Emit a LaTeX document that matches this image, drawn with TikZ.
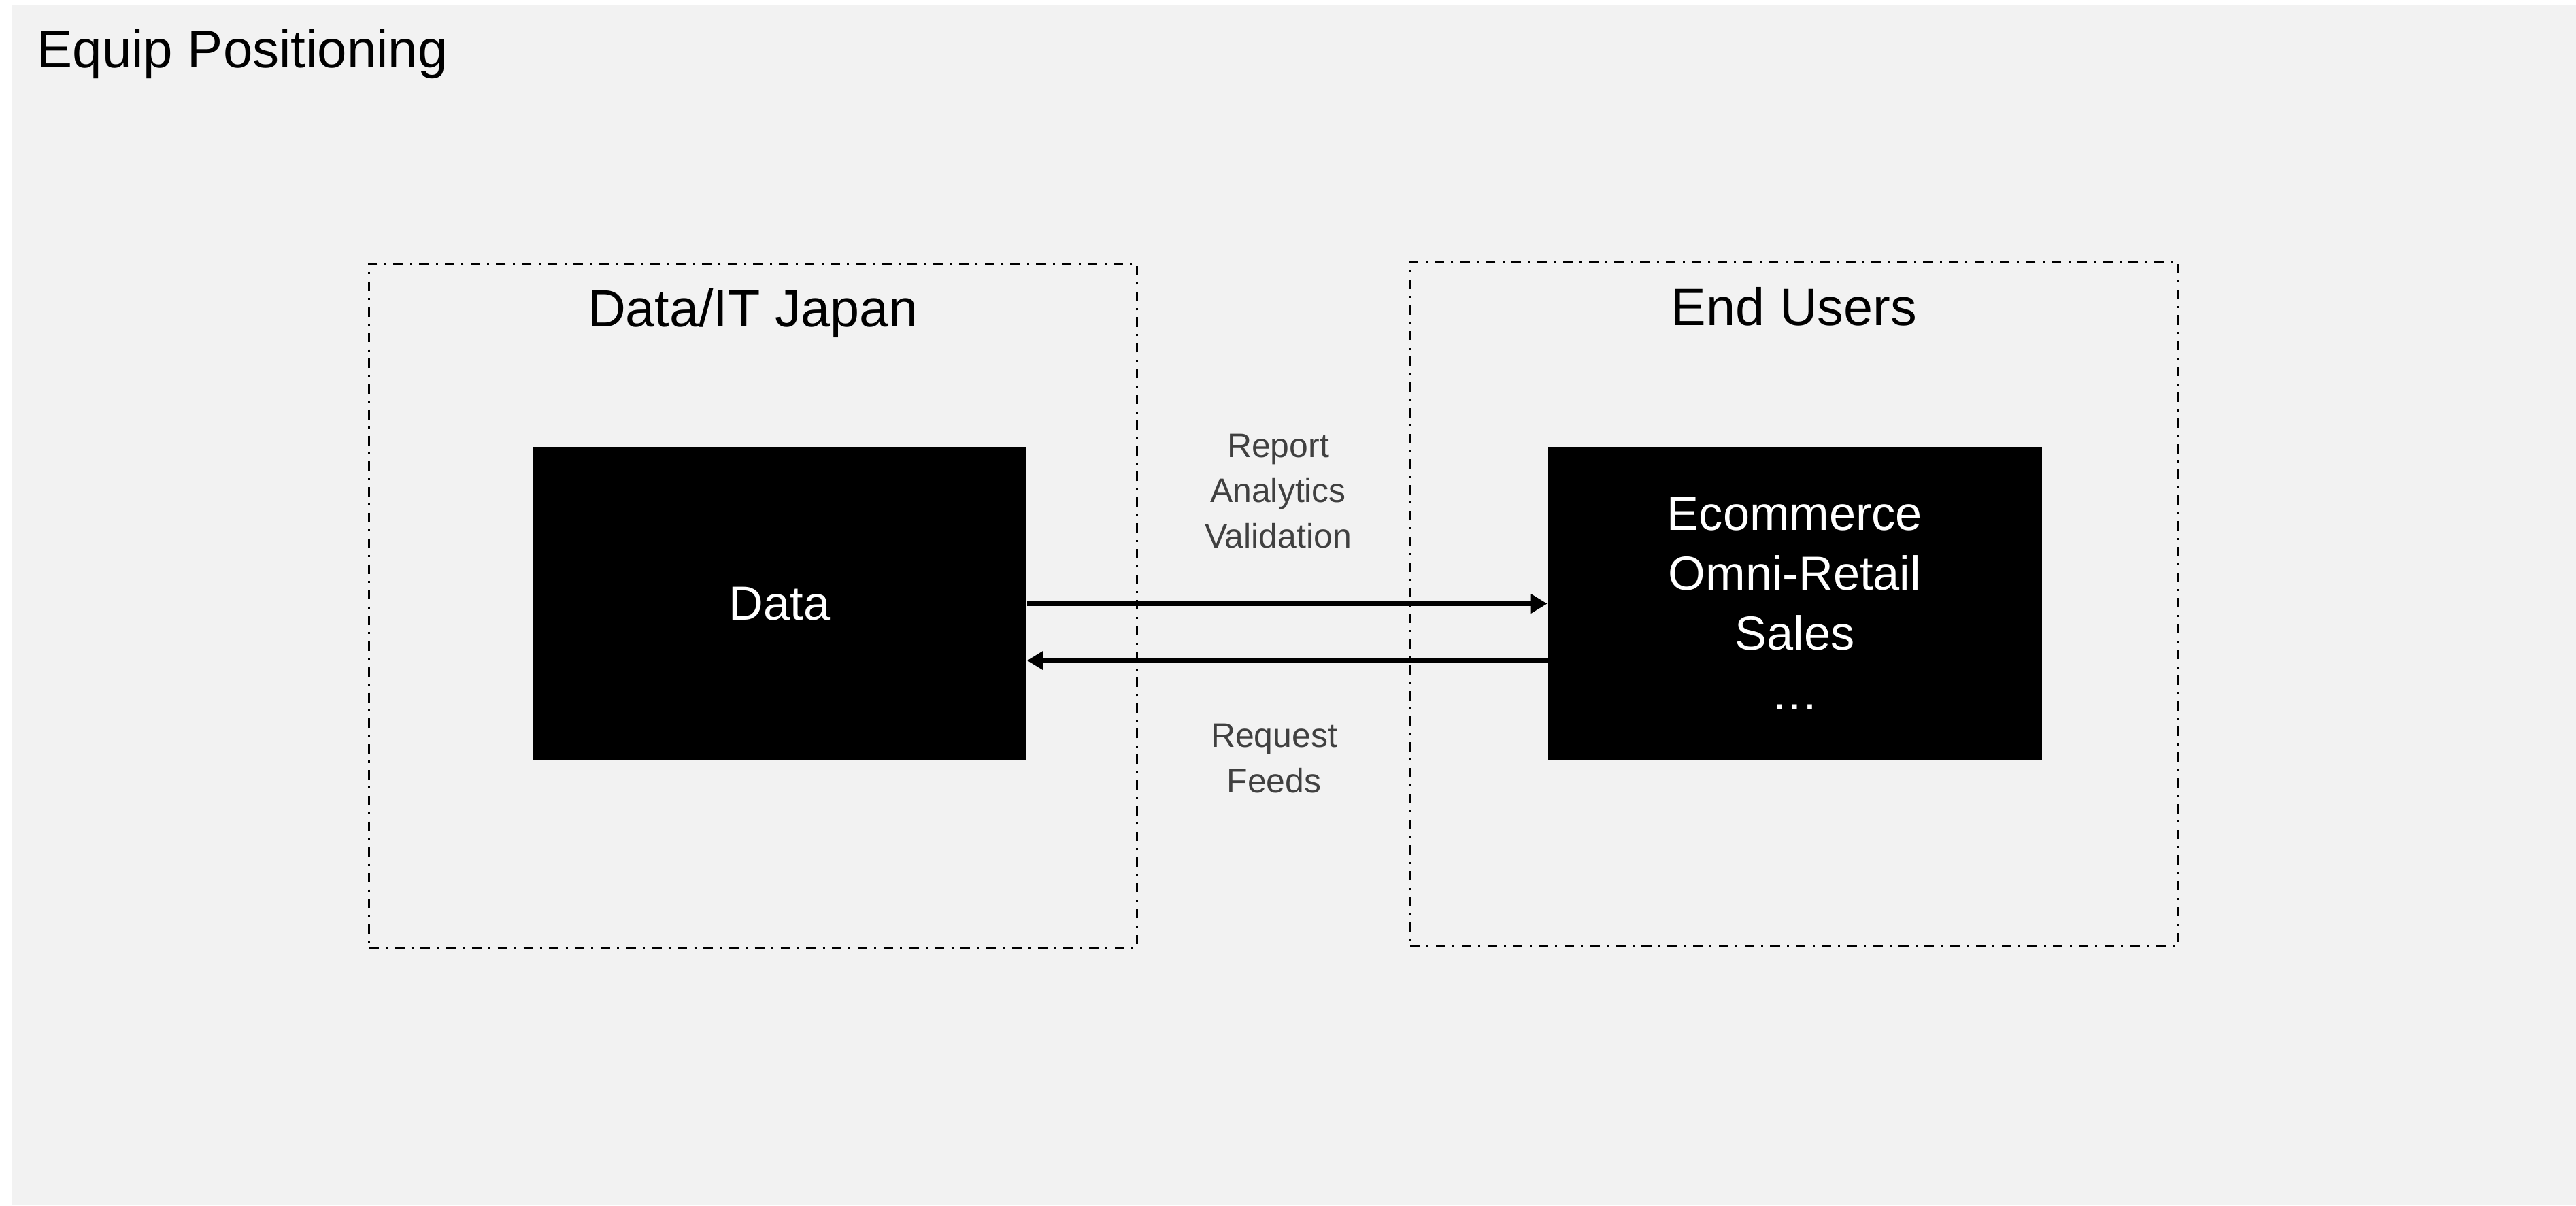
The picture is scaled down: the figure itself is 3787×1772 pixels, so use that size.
\documentclass[tikz,border=0pt]{standalone}
\usepackage{fontspec}
\setmainfont{Liberation Sans}
\usetikzlibrary{arrows.meta}
\definecolor{bggray}{HTML}{F2F2F2}
\definecolor{labgray}{HTML}{404040}
\begin{document}
\begin{tikzpicture}[x=0.01cm,y=-0.01cm,
  dashbox/.style={draw=black, line width=0.85pt,
    dash pattern=on 4pt off 2.9pt on 0.85pt off 3pt,
    minimum width=11.28cm, minimum height=10.05cm, inner sep=0pt},
  blackbox/.style={fill=black, text=white, minimum width=7.26cm, minimum height=4.61cm,
    inner sep=0pt, align=center, font=\fontsize{20pt}{25pt}\selectfont},
  boxtitle/.style={anchor=base, font=\fontsize{22pt}{26pt}\selectfont},
  flowlabel/.style={text=labgray, align=center, inner sep=0pt,
    font=\fontsize{14.2pt}{18.8pt}\selectfont},
  arr/.style={line width=2pt, -{Triangle[length=6.8pt,width=7.7pt]}}
]
\useasboundingbox (0,0) rectangle (3787,1772);
\fill[bggray] (17,8) rectangle (3787,1772);

\node[anchor=base west, inner sep=0pt, font=\fontsize{22.2pt}{26pt}\selectfont] (title) at (54,99) {Equip Positioning};

\node[dashbox] (leftgrp) at (1107,890.5) {};
\node[dashbox] (rightgrp) at (2637.5,887.5) {};

\node[boxtitle] (lefttitle) at (1107,480) {Data/IT Japan};
\node[boxtitle] (righttitle) at (2637.5,478) {End Users};

\node[blackbox] (data) at (1146,887.5) {Data};
\node[blackbox] (ecom) at (2638.5,887.5) {Ecommerce\\Omni-Retail\\Sales\\…};

\draw[arr] (data.east) -- (ecom.west);
\draw[arr] ([yshift=-0.835cm]ecom.west) -- ([yshift=-0.835cm]data.east);

\node[flowlabel] (toplabel) at (1879,722) {Report\\Analytics\\Validation};
\node[flowlabel] (botlabel) at (1873,1115) {Request\\Feeds};
\end{tikzpicture}
\end{document}
